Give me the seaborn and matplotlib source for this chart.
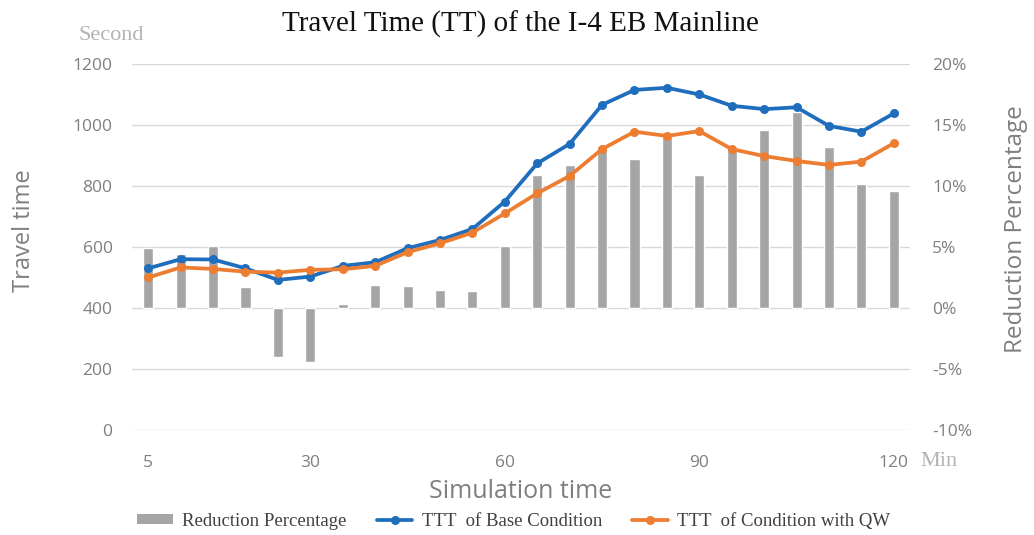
import matplotlib
matplotlib.use("Agg")
import matplotlib.pyplot as plt
from matplotlib.lines import Line2D
from matplotlib.patches import Patch
import seaborn as sns
import pandas as pd

# Simulation time (minutes), one record every 5 minutes
minutes = [5, 10, 15, 20, 25, 30, 35, 40, 45, 50, 55, 60,
           65, 70, 75, 80, 85, 90, 95, 100, 105, 110, 115, 120]

# Travel time (seconds)
tt_base = [530, 560, 559, 530, 492, 503, 538, 550, 596, 623, 659, 749,
           874, 938, 1066, 1115, 1122, 1100, 1063, 1052, 1058, 997, 978, 1038]
tt_qw = [500, 533, 528, 519, 516, 525, 527, 538, 583, 612, 647, 710,
         776, 833, 921, 978, 964, 980, 921, 898, 882, 869, 880, 940]

# Reduction percentage (%)
reduction = [4.9, 4.4, 5.1, 1.7, -4.0, -4.4, 0.3, 1.9, 1.8, 1.5, 1.4, 5.1,
             10.9, 11.7, 13.2, 12.2, 14.0, 10.9, 13.0, 14.6, 16.1, 13.2, 10.2, 9.6]

xtick_minutes = [5, 30, 60, 90, 120]
left_ticks = [0, 200, 400, 600, 800, 1000, 1200]
right_ticks = [-10, -5, 0, 5, 10, 15, 20]

df = pd.DataFrame({
    "minute": minutes,
    "pos": range(len(minutes)),
    "base": tt_base,
    "qw": tt_qw,
    "reduction": reduction,
})

BLUE = "#1f6dbd"
ORANGE = "#ed7d31"
BAR = "#a5a5a5"
GRID = "#d9d9d9"
TICK = "#7f7f7f"
SANS = ["Open Sans", "DejaVu Sans"]
SERIF = ["Liberation Serif", "DejaVu Serif"]

sns.set_theme(style="white")
plt.rcParams["font.family"] = SANS

fig = plt.figure(figsize=(10.34, 5.35), dpi=100)
ax = fig.add_axes([0.1277, 0.1963, 0.7524, 0.6841])
ax2 = ax.twinx()

# Bars on the secondary (percentage) axis, behind the lines
sns.barplot(data=df, x="minute", y="reduction", ax=ax2, color=BAR,
            width=0.31, saturation=1, errorbar=None, zorder=2)
ax2.set_ylim(-10, 20)
ax2.set_yticks(right_ticks)
ax2.set_yticklabels([f"{t}%" for t in right_ticks])
ax2.yaxis.grid(True, color=GRID, linewidth=1.0, zorder=0)
ax2.set_axisbelow(True)
ax2.set_xlabel("")
ax2.set_ylabel("Reduction Percentage", color=TICK, fontsize=17.5)
ax2.yaxis.set_label_coords(1.121, 0.55)
ax2.tick_params(axis="y", colors=TICK, labelsize=12.5, length=0, pad=16)

# Travel time lines on the primary axis
ax.set_zorder(ax2.get_zorder() + 1)
ax.patch.set_visible(False)
sns.lineplot(data=df, x="pos", y="base", ax=ax, color=BLUE, linewidth=2.7,
             marker="o", markersize=6.5, markeredgewidth=0)
sns.lineplot(data=df, x="pos", y="qw", ax=ax, color=ORANGE, linewidth=2.7,
             marker="o", markersize=6.5, markeredgewidth=0)
ax.set_ylim(0, 1200)
ax.set_yticks(left_ticks)
ax.tick_params(axis="y", colors=TICK, labelsize=12.5, length=0, pad=14)
ax.set_ylabel("Travel time", color=TICK, fontsize=17)
ax.yaxis.set_label_coords(-0.124, 0.546)

ax.set_xlim(-0.5, len(minutes) - 0.5)
ax2.set_xlim(-0.5, len(minutes) - 0.5)
ax.set_xticks([minutes.index(m) for m in xtick_minutes])
ax.set_xticklabels([str(m) for m in xtick_minutes])
ax.tick_params(axis="x", colors=TICK, labelsize=12.5, length=0, pad=18)
ax2.tick_params(axis="x", length=0)
ax.set_xlabel("Simulation time", color=TICK, fontsize=18, labelpad=6)

for a in (ax, ax2):
    for s in a.spines.values():
        s.set_visible(False)

# Title and unit annotations
fig.text(0.503, 0.955, "Travel Time (TT) of the I-4 EB Mainline",
         ha="center", va="center", fontsize=21, color="#111111", family=SERIF)
fig.text(0.108, 0.934, "Second", ha="center", va="center", fontsize=16,
         color="#b3b3b3", family=SERIF)
fig.text(0.908, 0.137, "Min", ha="center", va="center", fontsize=16,
         color="#b3b3b3", family=SERIF)

handles = [
    Patch(facecolor=BAR, edgecolor="none"),
    Line2D([0], [0], color=BLUE, linewidth=2.7, marker="o", markersize=6.5,
           markeredgewidth=0),
    Line2D([0], [0], color=ORANGE, linewidth=2.7, marker="o", markersize=6.5,
           markeredgewidth=0),
]
labels = ["Reduction Percentage", "TTT  of Base Condition",
          "TTT  of Condition with QW"]
fig.legend(handles, labels, loc="center", bbox_to_anchor=(0.497, 0.026),
           ncol=3, frameon=False, handlelength=1.9, handleheight=0.5,
           columnspacing=1.6, handletextpad=0.5,
           prop={"family": SERIF, "size": 13.5}, labelcolor="#404040")

fig.savefig("out.png", dpi=100, facecolor="white")
